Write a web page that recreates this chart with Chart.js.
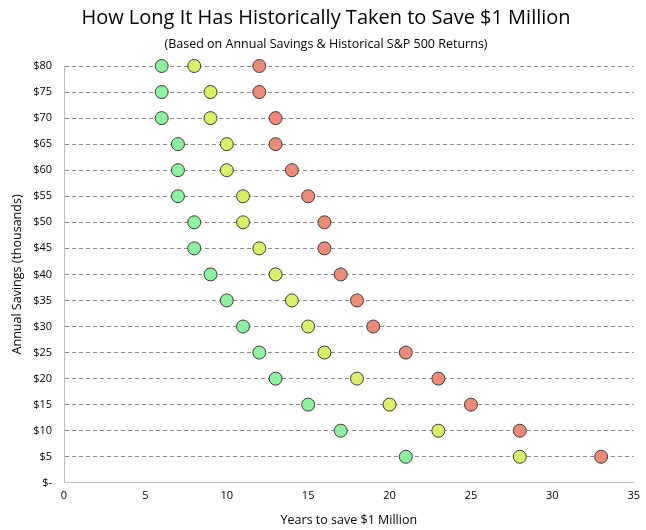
<!DOCTYPE html>
<html>
<head>
<meta charset="utf-8">
<script src="https://cdn.jsdelivr.net/npm/chart.js@4"></script>
<style>
  html, body { margin: 0; padding: 0; background: #fff; }
  #wrap { width: 646px; height: 530px; }
</style>
</head>
<body>
<div id="wrap"><canvas id="chart" width="646" height="530"></canvas></div>
<script>
// annual savings in thousands (y) and years to reach $1M (x)
const savings = [80, 75, 70, 65, 60, 55, 50, 45, 40, 35, 30, 25, 20, 15, 10, 5];
const bestYears   = [6, 6, 6, 7, 7, 7, 8, 8, 9, 10, 11, 12, 13, 15, 17, 21];
const medianYears = [8, 9, 9, 10, 10, 11, 11, 12, 13, 14, 15, 16, 18, 20, 23, 28];
const worstYears  = [12, 12, 13, 13, 14, 15, 16, 16, 17, 18, 19, 21, 23, 25, 28, 33];

const FONT = "'Open Sans', 'Noto Sans', sans-serif";

function points(years) {
  return years.map((x, i) => ({ x: x, y: savings[i] }));
}

function series(label, years, color) {
  return {
    label: label,
    data: points(years),
    backgroundColor: color,
    borderColor: '#3a3a3a',
    borderWidth: 1,
    pointRadius: 6.5,
    pointHoverRadius: 6.5,
    clip: false
  };
}

new Chart(document.getElementById('chart'), {
  type: 'scatter',
  data: {
    datasets: [
      series('Best', bestYears, '#8ef0a0'),
      series('Median', medianYears, '#dcee68'),
      series('Worst', worstYears, '#ee8a78')
    ]
  },
  options: {
    responsive: false,
    animation: false,
    layout: { padding: { left: 10, right: 4, top: 0, bottom: 2 } },
    plugins: {
      legend: { display: false },
      tooltip: { enabled: false },
      title: {
        display: true,
        text: 'How Long It Has Historically Taken to Save $1 Million',
        color: '#000',
        font: { family: FONT, size: 20, weight: 'normal' },
        padding: { top: 6, bottom: 6 }
      },
      subtitle: {
        display: true,
        text: '(Based on Annual Savings & Historical S&P 500 Returns)',
        color: '#000',
        font: { family: FONT, size: 12.5, weight: 'normal' },
        padding: { top: 1, bottom: 14 }
      }
    },
    scales: {
      x: {
        type: 'linear',
        min: 0,
        max: 35,
        ticks: {
          stepSize: 5,
          color: '#000',
          padding: 6,
          font: { family: FONT, size: 11 }
        },
        grid: { display: false, drawTicks: false },
        border: { display: true, color: '#bdbdbd', width: 1 },
        title: {
          display: true,
          text: 'Years to save $1 Million',
          color: '#000',
          font: { family: FONT, size: 12.5 },
          padding: { top: 5, bottom: 0 }
        }
      },
      y: {
        type: 'linear',
        min: 0,
        max: 80,
        afterFit: scale => { scale.width = 54; },
        ticks: {
          stepSize: 5,
          color: '#000',
          padding: 12,
          font: { family: FONT, size: 11 },
          callback: v => v === 0 ? '$-' : '$' + v
        },
        grid: {
          color: ctx => ctx.tick && ctx.tick.value === 0 ? 'rgba(0,0,0,0)' : '#8a8a8a',
          drawTicks: false,
          lineWidth: 1
        },
        border: { display: true, color: '#bdbdbd', width: 1, dash: [4, 3] },
        title: {
          display: true,
          text: 'Annual Savings (thousands)',
          color: '#000',
          font: { family: FONT, size: 12.5 },
          padding: { top: 0, bottom: 0 }
        }
      }
    }
  }
});
</script>
</body>
</html>
